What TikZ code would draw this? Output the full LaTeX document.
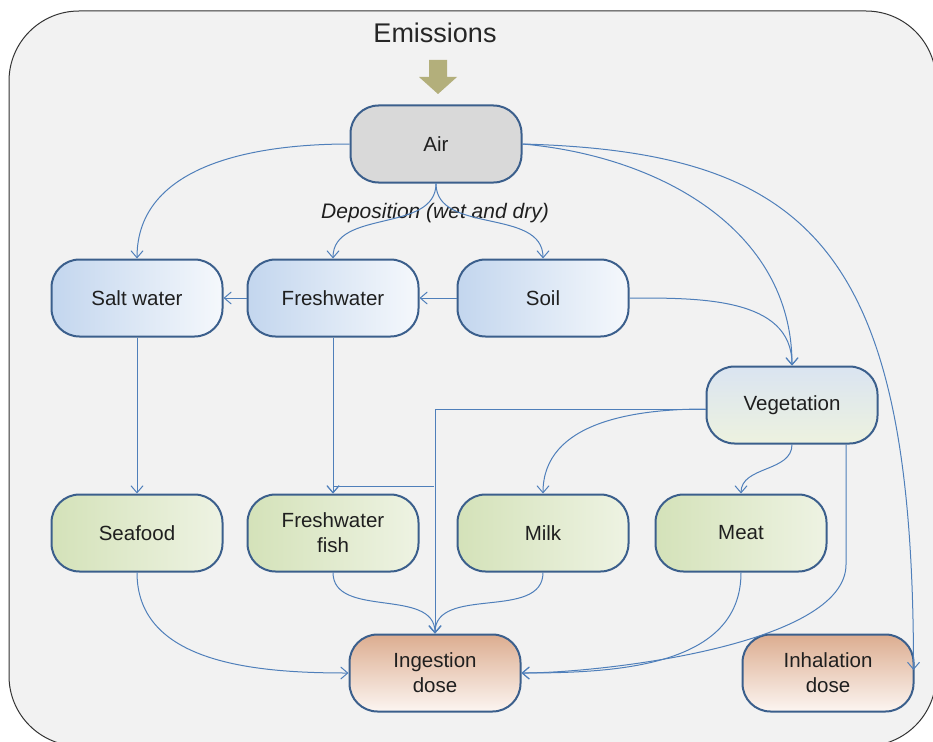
\documentclass[tikz,border=0pt]{standalone}
\usepackage{fontspec}
\setmainfont{Liberation Sans}
\usetikzlibrary{arrows.meta}

\definecolor{panelbg}{HTML}{F2F2F2}
\definecolor{boxline}{HTML}{3B5F8C}
\definecolor{flowblue}{HTML}{4F7FBA}
\definecolor{airgray}{HTML}{D9D9D9}
\definecolor{waterL}{HTML}{C3D6EE}
\definecolor{waterR}{HTML}{F5F8FC}
\definecolor{foodL}{HTML}{D4E2B9}
\definecolor{foodR}{HTML}{EEF3E3}
\definecolor{vegT}{HTML}{DAE4F1}
\definecolor{vegB}{HTML}{EDF2DF}
\definecolor{doseT}{HTML}{DCAD90}
\definecolor{doseB}{HTML}{FCF5F1}
\definecolor{emisarrow}{HTML}{B3AF7B}

\tikzset{
  box/.style={rectangle, rounded corners=28pt, draw=boxline, line width=2pt,
    minimum width=171pt, minimum height=77pt, align=center, text=black!88,
    font=\fontsize{20.5}{25}\selectfont},
  water/.style={box, left color=waterL, right color=waterR},
  food/.style={box, left color=foodL, right color=foodR},
  dose/.style={box, top color=doseT, bottom color=doseB},
  flow/.style={draw=flowblue, line width=1pt, -{Straight Barb[length=7pt,width=12pt]}}
}

\begin{document}
\begin{tikzpicture}[x=1pt, y=-1pt]
  \useasboundingbox (0,0) rectangle (933,741);
  % Panel
  \draw[fill=panelbg, draw=black!80, line width=1pt, rounded corners=70pt] (9,11) rectangle (936,746);

  % Emissions
  \node[font=\fontsize{27}{30}\selectfont, text=black!85] (emis) at (435,33) {Emissions};
  \fill[emisarrow] (429,60) -- (447,60) -- (447,77) -- (457,77) -- (438,94) -- (419,77) -- (429,77) -- cycle;

  % Boxes
  \node[box, fill=airgray] (air) at (436,144) {Air};
  \node[font=\fontsize{21}{25}\selectfont\itshape, text=black!88] (depo) at (435,213) {Deposition (wet and dry)};
  \node[water] (salt) at (137,298) {Salt water};
  \node[water] (fresh) at (333,298) {Freshwater};
  \node[water] (soil) at (543,298) {Soil};
  \node[box, top color=vegT, bottom color=vegB] (veg) at (792,405) {Vegetation};
  \node[food] (sea) at (137,533) {Seafood};
  \node[food] (fwf) at (333,533) {Freshwater\\fish};
  \node[food] (milk) at (543,533) {Milk};
  \node[food] (meat) at (741,533) {Meat};
  \node[dose] (ing) at (435,673) {Ingestion\\dose};
  \node[dose] (inh) at (828,673) {Inhalation\\dose};
  \coordinate (fwfjoin) at (434,486);

  % From air
  \draw[flow] (air.west) to[out=180,in=90] (salt.north);
  \draw[flow] (air.south) to[out=-90,in=90] (fresh.north);
  \draw[flow] (air.south) to[out=-90,in=90] (soil.north);
  \draw[flow] (air.east) to[out=-5,in=90] (veg.north);
  \draw[flow] (air.east) .. controls +(290,8) and +(0,-420) .. ([xshift=-1pt,yshift=3pt]inh.east);

  % Water and soil
  \draw[flow] (soil.west) -- (fresh.east);
  \draw[flow] (fresh.west) -- (salt.east);
  \draw[flow] (soil.east) to[out=0,in=90] (veg.north);
  \draw[flow] (salt.south) -- (sea.north);
  \draw[flow] (fresh.south) -- (fwf.north);

  % Vegetation
  \draw[flow] ([yshift=-4pt]veg.west) -| (ing.north);
  \draw[flow] (fwfjoin) -| (fwf.north);
  \draw[flow] ([yshift=-4pt]veg.west) to[out=180,in=90] (milk.north);
  \draw[flow] (veg.south) to[out=-90,in=90] (meat.north);
  \draw[flow] ([xshift=54pt]veg.south) -- ++(0,120) to[out=-90,in=0,looseness=0.6] (ing.east);

  % Food to ingestion
  \draw[flow] (sea.south) to[out=-90,in=180] (ing.west);
  \draw[flow] (fwf.south) to[out=-90,in=90] (ing.north);
  \draw[flow] (milk.south) to[out=-90,in=90] (ing.north);
  \draw[flow] (meat.south) to[out=-90,in=0] (ing.east);
\end{tikzpicture}
\end{document}
